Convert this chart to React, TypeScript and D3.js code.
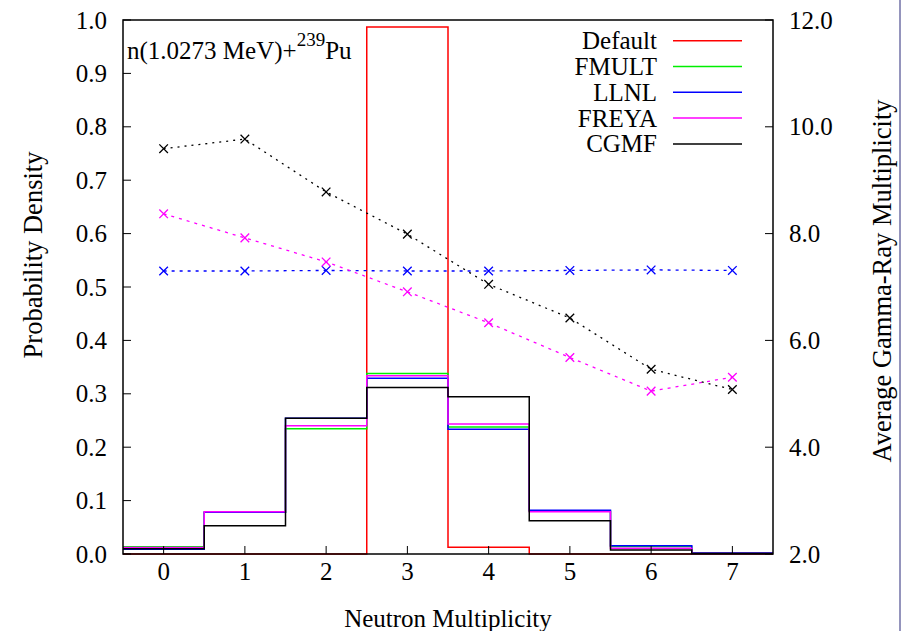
import React from "react";
import * as d3 from "d3";

const bins = [0, 1, 2, 3, 4, 5, 6, 7];
const seriesNames = ["Default", "FMULT", "LLNL", "FREYA", "CGMF"];
const seriesColors = ["#ff0000", "#00ee00", "#0000ff", "#ff00ff", "#000000"];

const pDefault = [0, 0, 0, 0.987, 0.0125, 0, 0, 0];
const pFMULT = [0.0137, 0.078, 0.2347, 0.338, 0.238, 0.080, 0.014, 0.002];
const pLLNL = [0.0088, 0.078, 0.254, 0.329, 0.2335, 0.082, 0.0156, 0.002];
const pFREYA = [0.012, 0.079, 0.240, 0.334, 0.2434, 0.079, 0.0106, 0.001];
const pCGMF = [0.010, 0.053, 0.254, 0.312, 0.2946, 0.0624, 0.0075, 0.001];

const gLLNL = [7.30, 7.30, 7.31, 7.30, 7.30, 7.31, 7.32, 7.31];
const gFREYA = [8.37, 7.92, 7.47, 6.91, 6.33, 5.68, 5.05, 5.31];
const gCGMF = [9.59, 9.77, 8.78, 7.99, 7.05, 6.42, 5.46, 5.08];

const yTicks = [0, 0.1, 0.2, 0.3, 0.4, 0.5, 0.6, 0.7, 0.8, 0.9, 1.0];
const y2Ticks = [2, 4, 6, 8, 10, 12];

const W = 909, H = 631;
const L = 123, R = 773, T = 20, B = 554;
const FONT = '"Liberation Serif", "Times New Roman", Times, serif';

export default function App() {
  const x = d3.scaleLinear().domain([-0.5, 7.5]).range([L, R]);
  const y = d3.scaleLinear().domain([0, 1]).range([B, T]);
  const y2 = d3.scaleLinear().domain([2, 12]).range([B, T]);

  const stepLine = d3
    .line<[number, number]>()
    .x((d) => x(d[0]))
    .y((d) => y(d[1]))
    .curve(d3.curveStepAfter);
  const stepPts = (vals: number[]): [number, number][] => {
    const pts: [number, number][] = vals.map((v, i) => [bins[i] - 0.5, v]);
    pts.push([bins[bins.length - 1] + 0.5, vals[vals.length - 1]]);
    return pts;
  };
  const hists = [pDefault, pFMULT, pLLNL, pFREYA, pCGMF];

  const gLine = d3
    .line<number>()
    .x((_, i) => x(bins[i]))
    .y((d) => y2(d));
  const gammas = [
    { vals: gLLNL, color: "#0000ff", dash: "3,5" },
    { vals: gFREYA, color: "#ff00ff", dash: "3,5" },
    { vals: gCGMF, color: "#000000", dash: "2,5" },
  ];

  const cross = (cx: number, cy: number, color: string, key: string) => {
    const s = 4.3;
    return (
      <path
        key={key}
        d={`M${cx - s},${cy - s}L${cx + s},${cy + s}M${cx - s},${cy + s}L${cx + s},${cy - s}`}
        stroke={color}
        strokeWidth={1.3}
        fill="none"
      />
    );
  };

  const ts: React.CSSProperties = { fontFamily: FONT, fontSize: 25 };
  const tv: React.CSSProperties = { fontFamily: FONT, fontSize: 26.5 };

  return (
    <svg
      width={W}
      height={H}
      style={{ position: "absolute", left: 0, top: 0, background: "#fff", fontFamily: FONT }}
    >
      <rect x={0} y={0} width={W} height={H} fill="#fff" />
      {hists.map((vals, i) => (
        <path
          key={"h" + i}
          d={stepLine(stepPts(vals)) || ""}
          fill="none"
          stroke={seriesColors[i]}
          strokeWidth={1.5}
        />
      ))}
      {gammas.map((g, i) => (
        <g key={"g" + i}>
          <path d={gLine(g.vals) || ""} fill="none" stroke={g.color} strokeWidth={1.3} strokeDasharray={g.dash} />
          {g.vals.map((v, j) => cross(x(bins[j]), y2(v), g.color, `c${i}-${j}`))}
        </g>
      ))}
      <rect x={L} y={T} width={R - L} height={B - T} fill="none" stroke="#000" strokeWidth={1.5} />
      {yTicks.map((t) => (
        <g key={"yt" + t}>
          <line x1={L} x2={L + 8} y1={y(t)} y2={y(t)} stroke="#000" strokeWidth={1} />
          <text x={107} y={y(t) + 8.5} textAnchor="end" style={ts}>
            {t.toFixed(1)}
          </text>
        </g>
      ))}
      {y2Ticks.map((t) => (
        <g key={"y2t" + t}>
          <line x1={R - 8} x2={R} y1={y2(t)} y2={y2(t)} stroke="#000" strokeWidth={1} />
          <text x={789} y={y2(t) + 8.5} textAnchor="start" style={ts}>
            {t.toFixed(1)}
          </text>
        </g>
      ))}
      {bins.map((t) => (
        <g key={"xt" + t}>
          <line x1={x(t)} x2={x(t)} y1={B} y2={B - 8} stroke="#000" strokeWidth={1} />
          <text x={x(t)} y={580} textAnchor="middle" style={ts}>
            {t}
          </text>
        </g>
      ))}
      <text x={448} y={627} textAnchor="middle" style={ts}>
        Neutron Multiplicity
      </text>
      <text transform={`translate(42,255) rotate(-90)`} textAnchor="middle" style={tv}>
        Probability Density
      </text>
      <text transform={`translate(891,281) rotate(-90)`} textAnchor="middle" style={tv}>
        Average Gamma-Ray Multiplicity
      </text>
      <text x={127} y={59} style={ts}>
        n(1.0273 MeV)+
        <tspan style={{ fontSize: 19 }} dy={-13}>239</tspan>
        <tspan dy={13}>Pu</tspan>
      </text>
      {seriesNames.map((n, i) => {
        const ly = 40.7 + i * 25.8;
        return (
          <g key={"lg" + i}>
            <text x={657} y={ly + 8.5} textAnchor="end" style={ts}>
              {n}
            </text>
            <line x1={673} x2={742} y1={ly} y2={ly} stroke={seriesColors[i]} strokeWidth={1.5} />
          </g>
        );
      })}
      <line x1={900} x2={900} y1={0} y2={H} stroke="#2a2a7a" strokeWidth={1} />
    </svg>
  );
}
